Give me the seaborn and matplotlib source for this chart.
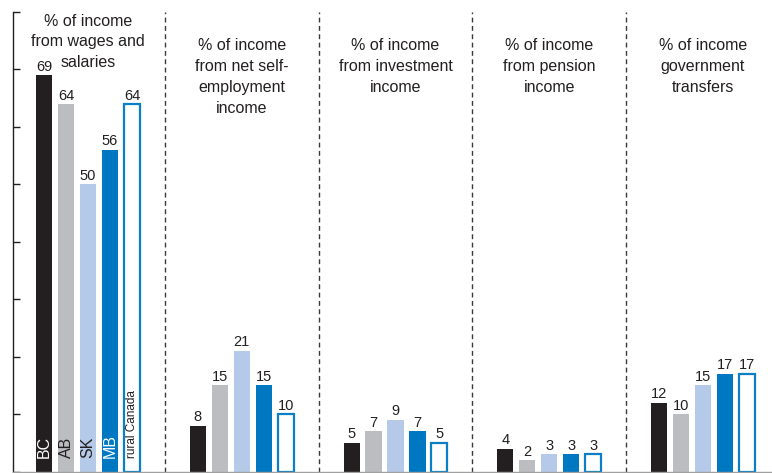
import matplotlib
matplotlib.use("Agg")
import matplotlib.pyplot as plt
import matplotlib.transforms as mtransforms
import pandas as pd
import seaborn as sns

# Income composition by province (percent of total income)
regions = ["BC", "AB", "SK", "MB", "rural Canada"]
categories = [
    "% of income\nfrom wages and\nsalaries",
    "% of income\nfrom net self-\nemployment\nincome",
    "% of income\nfrom investment\nincome",
    "% of income\nfrom pension\nincome",
    "% of income\ngovernment\ntransfers",
]
wages = [69, 64, 50, 56, 64]
self_employment = [8, 15, 21, 15, 10]
investment = [5, 7, 9, 7, 5]
pension = [4, 2, 3, 3, 3]
transfers = [12, 10, 15, 17, 17]

series = [wages, self_employment, investment, pension, transfers]
rows = []
for cat, vals in zip(categories, series):
    for reg, v in zip(regions, vals):
        rows.append({"category": cat, "region": reg, "value": v})
df = pd.DataFrame(rows)

DARK = "#231f20"
colors = {
    "BC": "#231f20",
    "AB": "#bcbdc0",
    "SK": "#b4cae8",
    "MB": "#0078c1",
    "rural Canada": "#ffffff",
}
OUTLINE = "#0a7fc6"
inside_text = {"BC": "white", "AB": DARK, "SK": DARK, "MB": "white", "rural Canada": DARK}

sns.set_theme(style="white")
plt.rcParams["font.family"] = ["Liberation Sans", "DejaVu Sans"]

W, H = 772, 473
AX_TOP, AX_BOTTOM, AX_LEFT = 12, 471.5, 13
fig = plt.figure(figsize=(W / 100, H / 100), dpi=100)
ax = fig.add_axes([AX_LEFT / W, (H - AX_BOTTOM) / H, 1 - AX_LEFT / W,
                   (AX_BOTTOM - AX_TOP) / H])

sns.barplot(
    data=df, x="category", y="value", hue="region",
    order=categories, hue_order=regions, palette=colors,
    width=0.715, gap=0.27, legend=False, ax=ax, errorbar=None,
    linewidth=0, saturation=1,
)

# outlined bars for rural Canada
rural_container = ax.containers[regions.index("rural Canada")]
for bar in rural_container:
    bar.set_facecolor("white")
    bar.set_edgecolor(OUTLINE)
    bar.set_linewidth(1.6)

# value labels above bars
for reg, cont in zip(regions, ax.containers):
    vals = [s[regions.index(reg)] for s in series]
    ax.bar_label(cont, labels=[str(v) for v in vals], padding=1,
                 fontsize=10.5, color=DARK)

# region names written inside the first group of bars
for reg, cont in zip(regions, ax.containers):
    bar = cont[0]
    cx = bar.get_x() + bar.get_width() / 2
    small = reg == "rural Canada"
    ax.text(cx, 2.3, reg, rotation=90, ha="center", va="bottom",
            fontsize=8.5 if small else 11.5, color=inside_text[reg])

ax.set_ylim(0, 80)
ax.set_xlim(-0.488, 4.449)

# dashed separators between groups
for x in [0.5, 1.5, 2.5, 3.5]:
    ax.axvline(x, color="#3a3a3a", lw=1, linestyle=(0, (3.5, 2.5)))

# group headings, one text per line
trans = mtransforms.blended_transform_factory(ax.transData, ax.transAxes)
LINE_STEP = 20.8
for i, cat in enumerate(categories):
    first_baseline = 25.5 if i == 0 else 50.5
    for j, line in enumerate(cat.split("\n")):
        py = first_baseline + j * LINE_STEP
        ax.text(i, (AX_BOTTOM - py) / (AX_BOTTOM - AX_TOP), line,
                transform=trans, ha="center", va="baseline",
                fontsize=11.5, color=DARK, clip_on=False)

ax.set_xlabel("")
ax.set_ylabel("")
ax.set_xticks([])
ax.set_yticks(range(0, 81, 10))
ax.set_yticklabels([])
ax.tick_params(axis="y", direction="in", length=5, width=1, color=DARK, left=True)
for side in ["top", "right"]:
    ax.spines[side].set_visible(False)
ax.spines["left"].set_color(DARK)
ax.spines["left"].set_linewidth(1)
ax.spines["bottom"].set_color("#a0a0a0")
ax.spines["bottom"].set_linewidth(1)

fig.savefig("out.png", dpi=100)
